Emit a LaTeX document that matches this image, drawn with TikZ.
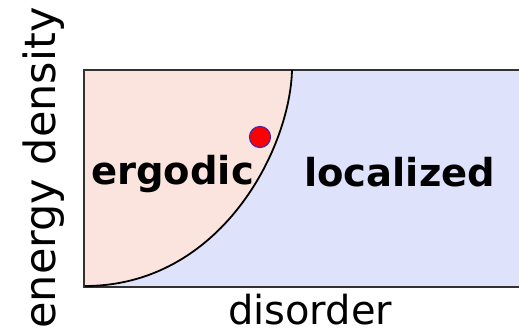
\documentclass[tikz,border=0pt]{standalone}
\usepackage{fontspec}
\setmainfont{DejaVu Sans}
\definecolor{ergpink}{RGB}{252,228,222}
\definecolor{locblue}{RGB}{222,226,250}
\definecolor{frame}{RGB}{50,50,50}
\begin{document}
\begin{tikzpicture}[x=1pt,y=-1pt,
  phase/.style={font=\bfseries\fontsize{38.5}{42}\selectfont,inner sep=0pt},
  axislabel/.style={font=\fontsize{40}{44}\selectfont,inner sep=0pt},
  ylabel/.style={font=\fontsize{43}{46}\selectfont,inner sep=0pt}]
\useasboundingbox (0,0) rectangle (519,334);
\coordinate (bl) at (85,286);
\coordinate (top) at (292,70);
% fills
\fill[locblue] (84,70) rectangle (522,287);
\fill[ergpink] (84,70) -- (top) .. controls (290,150) and (220,286) .. (bl) -- (84,287) -- cycle;
% frame
\draw[frame,line width=2pt] (522,70) -- (84,70) -- (84,287) -- (522,287);
% boundary curve
\draw[black,line width=1.8pt] (bl) .. controls (220,286) and (290,150) .. (top);
% dot
\node[circle,fill=red,draw={rgb,255:red,80;green,40;blue,160},line width=1.2pt,minimum size=21pt,inner sep=0pt] (dot) at (260,137) {};
% labels
\node[phase,anchor=base west] (erg) at (91,184) {ergodic};
\node[phase,anchor=base west] (loc) at (304,186) {localized};
\node[axislabel,anchor=base] (xl) at (310,324) {disorder};
\node[ylabel,anchor=base,rotate=90] (yl) at (55,168) {energy density};
\end{tikzpicture}
\end{document}
